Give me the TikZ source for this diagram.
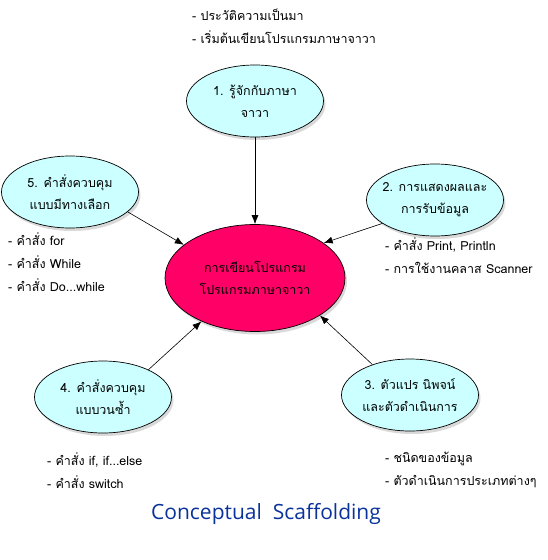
\documentclass[tikz,border=0pt]{standalone}
\usepackage{fontspec}
\newfontfamily\thaifont[Script=Thai]{Loma}
\newfontfamily\titlefont{Open Sans}
\usetikzlibrary{shapes.geometric,shadows,positioning,arrows.meta}
\definecolor{topicfill}{RGB}{204,255,255}
\definecolor{mainfill}{RGB}{255,0,102}
\definecolor{titleblue}{RGB}{10,50,155}

\begin{document}
\begin{tikzpicture}[x=1pt,y=-1pt,
    thai/.style={font=\thaifont\fontsize{12.5}{22}\selectfont},
    topic/.style={thai, draw, ellipse, fill=topicfill, line width=0.7pt,
        minimum width=137pt, minimum height=72pt, inner xsep=-14pt, inner ysep=0pt,
        align=center, drop shadow={opacity=0.3, shadow xshift=2pt, shadow yshift=-3pt}},
    maintopic/.style={topic, fill=mainfill, minimum width=180pt, minimum height=107pt},
    sublist/.style={thai, font=\thaifont\fontsize{12.5}{23}\selectfont, align=left, anchor=north west, inner sep=0pt},
    link/.style={-{Latex[length=9pt,width=7pt]}, line width=0.6pt}]
    \useasboundingbox (0,0) rectangle (547,560);

    % main topic and the five parts
    \node[maintopic] (Java) at (255,278) {การเขียนโปรแกรม\\โปรแกรมภาษาจาวา};
    \node[topic] (Intro) at (255,101) {1. รู้จักกับภาษา\\จาวา};
    \node[topic] (InOut) at (435,200) {2. การแสดงผลและ\\การรับข้อมูล};
    \node[topic] (Vars) at (410,395) {3. ตัวแปร นิพจน์\\และตัวดำเนินการ};
    \node[topic] (Loop) at (103,397) {4. คำสั่งควบคุม\\แบบวนซ้ำ};
    \node[topic] (Choice) at (70,192) {5. คำสั่งควบคุม\\แบบมีทางเลือก};

    % sub items
    \node[sublist] (IntroList) at (192,9) {- ประวัติความเป็นมา\\- เริ่มต้นเขียนโปรแกรมภาษาจาวา};
    \node[sublist] (InOutList) at (385,237) {- คำสั่ง Print, Println\\- การใช้งานคลาส Scanner};
    \node[sublist] (VarsList) at (385,452) {- ชนิดของข้อมูล\\- ตัวดำเนินการประเภทต่างๆ};
    \node[sublist] (LoopList) at (47,452) {- คำสั่ง if, if...else\\- คำสั่ง switch};
    \node[sublist] (ChoiceList) at (8,232) {- คำสั่ง for\\- คำสั่ง While\\- คำสั่ง Do...while};

    % links
    \draw[link] (Intro.south) -- (Java.north);
    \draw[link] (InOut.204) -- (Java.27);
    \draw[link] (Vars.141) -- (Java.330);
    \draw[link] (Loop.31) -- (Java.219);
    \draw[link] (Choice.341) -- (Java.155);

    \node[font=\titlefont\fontsize{21}{24}\selectfont, text=titleblue] (Title) at (266,514) {Conceptual\ \ Scaffolding};
\end{tikzpicture}
\end{document}
